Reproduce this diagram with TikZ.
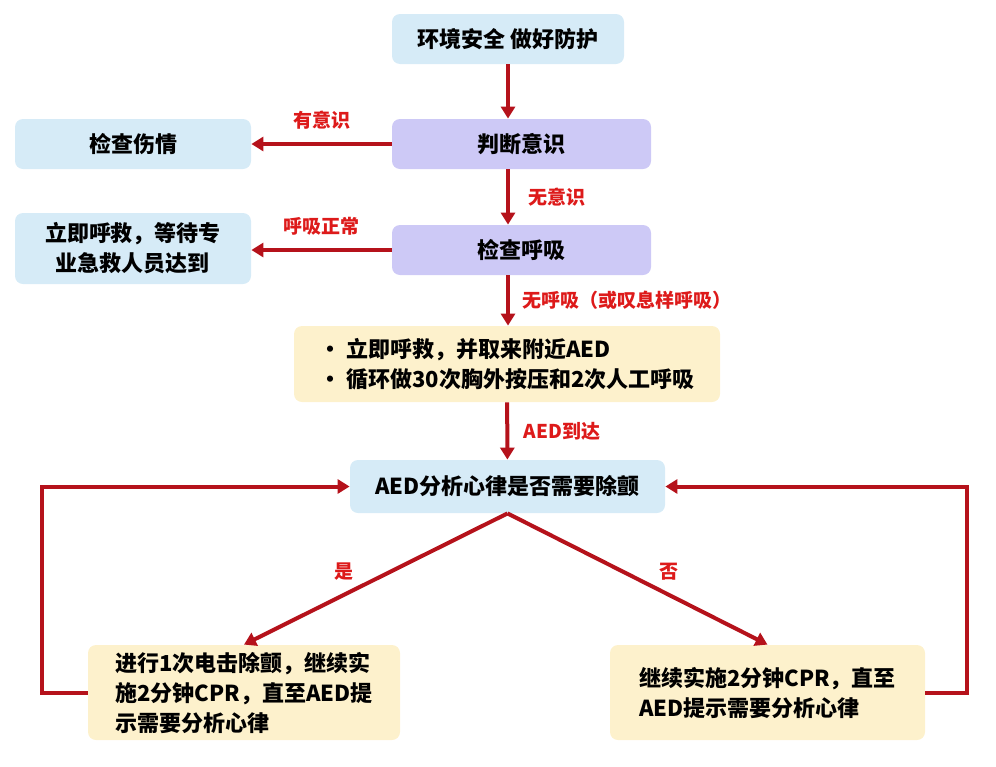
\documentclass[tikz,border=0pt]{standalone}
\usepackage{fontspec}
\setmainfont{Noto Sans CJK SC}[BoldFont={Noto Sans CJK SC Black}]
\usetikzlibrary{arrows.meta}
\definecolor{boxblue}{HTML}{D6EBF7}
\definecolor{boxpurple}{HTML}{CDC9F6}
\definecolor{boxyellow}{HTML}{FDF1CC}
\definecolor{arrred}{HTML}{B5121B}
\definecolor{lblred}{HTML}{DD1A1A}
\tikzset{
  box/.style={rounded corners=4pt, inner sep=0pt, align=center,
    font=\bfseries\fontsize{11}{15}\selectfont},
  bluebox/.style={box, fill=boxblue},
  purplebox/.style={box, fill=boxpurple},
  yellowbox/.style={box, fill=boxyellow, align=left},
  arr/.style={draw=arrred, line width=2pt, -{Triangle[length=6pt,width=7pt]}},
  lbl/.style={text=lblred, font=\bfseries\fontsize{9.5}{11}\selectfont}
}
\begin{document}
\begin{tikzpicture}[x=0.5pt,y=-0.5pt]
  \useasboundingbox (0,0) rectangle (996,766);
  % boxes
  \node[bluebox, minimum width=116pt, minimum height=25pt] (safe) at (508,39) {环境安全 做好防护};
  \node[purplebox, minimum width=129.5pt, minimum height=25pt] (judge) at (521.5,144) {判断意识};
  \node[bluebox, minimum width=118pt, minimum height=25pt] (injury) at (133,144) {检查伤情};
  \node[purplebox, minimum width=129.5pt, minimum height=25pt] (breath) at (521.5,250) {检查呼吸};
  \node[bluebox, minimum width=118pt, minimum height=35.5pt] (wait) at (133,248.5) {立即呼救，等待专\\业急救人员达到};
  \node[yellowbox, minimum width=213pt, minimum height=38pt] (cpr) at (507,364)
    {• 立即呼救，并取来附近AED\\• 循环做30次胸外按压和2次人工呼吸};
  \node[bluebox, minimum width=157.5pt, minimum height=26.5pt] (aed) at (507.5,486.5) {AED分析心律是否需要除颤};
  \node[yellowbox, minimum width=156pt, minimum height=47.5pt] (shock) at (244,692.5)
    {进行1次电击除颤，继续实\\施2分钟CPR，直至AED提\\示需要分析心律};
  \node[yellowbox, minimum width=157.5pt, minimum height=47.5pt] (cont) at (767.5,692.5)
    {继续实施2分钟CPR，直至\\AED提示需要分析心律};
  % connectors
  \draw[arr] (safe) -- (safe |- judge.north);
  \draw[arr] (judge.west) -- (judge.west -| injury.east) node[lbl, midway, above, yshift=3pt] {有意识};
  \draw[arr] (safe |- judge.south) -- (safe |- breath.north) node[lbl, midway, right, xshift=6pt] {无意识};
  \draw[arr] (breath.west) -- (breath.west -| wait.east) node[lbl, midway, above, yshift=3pt] {呼吸正常};
  \draw[arr] (safe |- breath.south) -- (safe |- cpr.north) node[lbl, midway, right, xshift=3pt] {无呼吸（或叹息样呼吸）};
  \draw[arr] (cpr) -- (aed) node[lbl, midway, right, xshift=4pt] {AED到达};
  \draw[arr] (aed.south) -- (shock.north) node[lbl, pos=0.62, above, yshift=3pt] {是};
  \draw[arr] (aed.south) -- (cont.north) node[lbl, pos=0.62, above, yshift=3pt] {否};
  \draw[arr] (shock.west) -- ++(-46,0) |- (aed.west);
  \draw[arr] (cont.east) -- ++(42,0) |- (aed.east);
\end{tikzpicture}
\end{document}
